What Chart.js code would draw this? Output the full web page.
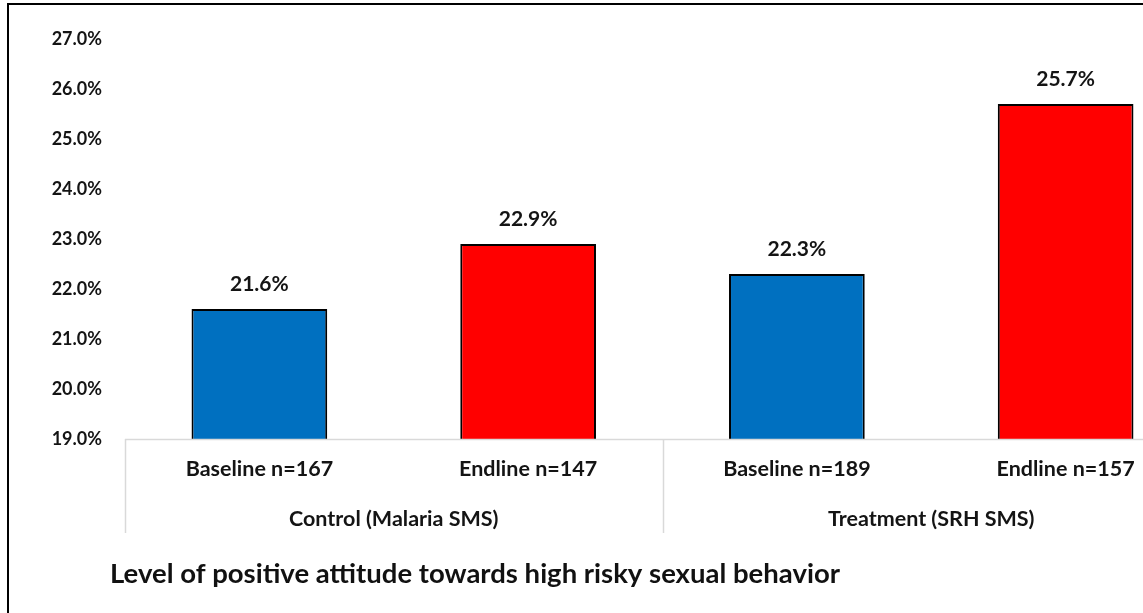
<!DOCTYPE html>
<html>
<head>
<meta charset="utf-8">
<script src="https://cdn.jsdelivr.net/npm/chart.js@4/dist/chart.umd.min.js"></script>
<style>
  html, body { margin: 0; padding: 0; background: #fff; overflow: hidden; width: 1143px; height: 613px; }
  #frame { position: absolute; left: 7px; top: 3px; width: 1300px; height: 700px;
           border-top: 2px solid #000; border-left: 2px solid #000; }
  #wrap { position: absolute; left: 0; top: 0; width: 1210px; height: 613px; }
</style>
</head>
<body>
<div id="frame"></div>
<div id="wrap"><canvas id="c" width="1210" height="613"></canvas></div>
<script>
// Attitude levels by study arm and survey round
const categories = ['Baseline n=167', 'Endline n=147', 'Baseline n=189', 'Endline n=157'];
const groups = ['Control (Malaria SMS)', 'Treatment (SRH SMS)'];
const groupSpan = [2, 2];
const values = [21.6, 22.9, 22.3, 25.7];
const yTicks = [19, 20, 21, 22, 23, 24, 25, 26, 27];
const chartTitle = 'Level of positive attitude towards high risky sexual behavior';

const FONT = 'Lato, "Open Sans", sans-serif';
const barColors = ['#0070C0', '#FF0000', '#0070C0', '#FF0000'];

// Value labels above each bar
const valueLabels = {
  id: 'valueLabels',
  afterDatasetsDraw(chart) {
    const ctx = chart.ctx;
    const meta = chart.getDatasetMeta(0);
    ctx.save();
    ctx.font = 'bold 21px ' + FONT;
    ctx.fillStyle = '#141414';
    ctx.textAlign = 'center';
    ctx.textBaseline = 'middle';
    meta.data.forEach((bar, i) => {
      ctx.fillText(values[i].toFixed(1) + '%', bar.x, bar.y - 25);
    });
    ctx.restore();
  }
};

// Two-level category axis, drawn under the plot area, plus the caption
const groupedAxis = {
  id: 'groupedAxis',
  afterDraw(chart) {
    const ctx = chart.ctx;
    const x = chart.scales.x;
    const area = chart.chartArea;
    const half = (x.getPixelForValue(1) - x.getPixelForValue(0)) / 2;
    ctx.save();
    ctx.strokeStyle = '#d9d9d9';
    ctx.lineWidth = 1.5;
    ctx.beginPath();
    ctx.moveTo(area.left, area.bottom + 0.5);
    ctx.lineTo(area.right, area.bottom + 0.5);
    let idx = 0;
    const bounds = [x.getPixelForValue(0) - half];
    groupSpan.forEach(n => { idx += n; bounds.push(x.getPixelForValue(idx - 1) + half); });
    bounds.forEach(b => {
      ctx.moveTo(Math.round(b) + 0.5, area.bottom);
      ctx.lineTo(Math.round(b) + 0.5, area.bottom + 94);
    });
    ctx.stroke();

    ctx.fillStyle = '#141414';
    ctx.textAlign = 'center';
    ctx.textBaseline = 'middle';
    ctx.font = 'bold 21.5px ' + FONT;
    categories.forEach((lab, i) => {
      ctx.fillText(lab, x.getPixelForValue(i), area.bottom + 30);
    });
    groups.forEach((g, i) => {
      ctx.fillText(g, (bounds[i] + bounds[i + 1]) / 2, area.bottom + 80);
    });

    ctx.textAlign = 'left';
    ctx.font = 'bold 27.5px ' + FONT;
    ctx.fillStyle = '#111';
    ctx.fillText(chartTitle, 110, area.bottom + 135);
    ctx.restore();
  }
};

new Chart(document.getElementById('c'), {
  type: 'bar',
  data: {
    labels: categories,
    datasets: [{
      data: values,
      backgroundColor: barColors,
      borderColor: '#000',
      borderWidth: 2,
      borderSkipped: 'bottom',
      barPercentage: 0.505,
      categoryPercentage: 1
    }]
  },
  options: {
    responsive: false,
    animation: false,
    devicePixelRatio: 1,
    layout: { padding: { top: 39, right: 10, bottom: 174, left: 0 } },
    plugins: { legend: { display: false }, tooltip: { enabled: false }, title: { display: false } },
    scales: {
      x: { display: false },
      y: {
        min: yTicks[0],
        max: yTicks[yTicks.length - 1],
        afterBuildTicks(scale) { scale.ticks = yTicks.map(v => ({ value: v })); },
        afterFit(scale) { scale.width = 125; },
        grid: { display: false, drawTicks: false },
        border: { display: false },
        ticks: {
          padding: 23,
          color: '#141414',
          font: { family: FONT, size: 18, weight: 'bold' },
          callback: v => Number(v).toFixed(1) + '%'
        }
      }
    }
  },
  plugins: [valueLabels, groupedAxis]
});
</script>
</body>
</html>
